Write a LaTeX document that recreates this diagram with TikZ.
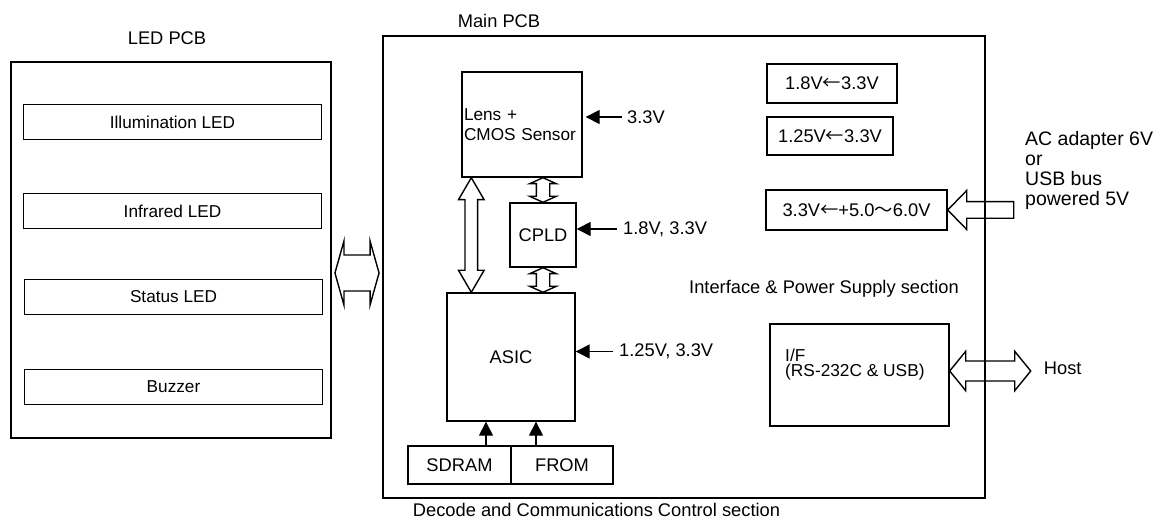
\documentclass[tikz,border=0pt]{standalone}
\usepackage{fontspec}
\setmainfont{Liberation Sans}
\newfontfamily\cjk{Noto Sans CJK JP}
\usetikzlibrary{arrows.meta,positioning,calc}

\newcommand{\lfrom}{{\cjk ←}}
\newcommand{\wavesym}{{\cjk ～}}
% hollow double arrow, left tip / right tip / half shaft / half head / head length
\newcommand{\hollowh}[5]{%
  \draw[hollow] let \p1=(#1), \p2=(#2) in
    (\x1,\y1) -- (\x1+#5,\y1+#4) -- (\x1+#5,\y1+#3) -- (\x2-#5,\y1+#3) -- (\x2-#5,\y1+#4)
    -- (\x2,\y1) -- (\x2-#5,\y1-#4) -- (\x2-#5,\y1-#3) -- (\x1+#5,\y1-#3) -- (\x1+#5,\y1-#4) -- cycle;}
% hollow double arrow, top tip / bottom tip
\newcommand{\hollowv}[5]{%
  \draw[hollow] let \p1=(#1), \p2=(#2) in
    (\x1,\y1) -- (\x1+#4,\y1-#5) -- (\x1+#3,\y1-#5) -- (\x1+#3,\y2+#5) -- (\x1+#4,\y2+#5)
    -- (\x1,\y2) -- (\x1-#4,\y2+#5) -- (\x1-#3,\y2+#5) -- (\x1-#3,\y1-#5) -- (\x1-#4,\y1-#5) -- cycle;}
% hollow single arrow pointing left, tip / tail
\newcommand{\hollowl}[5]{%
  \draw[hollow] let \p1=(#1), \p2=(#2) in
    (\x1,\y1) -- (\x1+#5,\y1+#4) -- (\x1+#5,\y1+#3) -- (\x2,\y1+#3)
    -- (\x2,\y1-#3) -- (\x1+#5,\y1-#3) -- (\x1+#5,\y1-#4) -- cycle;}

\begin{document}
\begin{tikzpicture}[x=1pt, y=-1pt, font=\fontsize{18.3}{20}\selectfont,
  pcb/.style={draw, line width=1.9pt, inner sep=0pt},
  box/.style={draw, line width=1.4pt, inner sep=2pt, align=center},
  small/.style={font=\fontsize{17.2}{20}\selectfont},
  lbl/.style={inner sep=0pt, align=left},
  hollow/.style={line width=1.4pt, line join=miter},
  feed/.style={->, line width=1.4pt},
  >={Triangle[length=14pt,width=14pt]}]
\useasboundingbox (0,0) rectangle (1170,521);

% LED PCB
\node[pcb, minimum width=320pt, minimum height=376pt] (ledpcb) at (171,250) {};
\node[lbl] (ledtitle) at (167,38) {LED PCB};
\node[box, small, minimum width=298pt, minimum height=35pt] (illum) at (172.5,122) {Illumination LED};
\node[box, small, minimum width=298pt, minimum height=35pt] (infra) at (172.5,211) {Infrared LED};
\node[box, small, minimum width=298pt, minimum height=35pt] (status) at (173.5,297) {Status LED};
\node[box, small, minimum width=298pt, minimum height=35pt] (buzzer) at (173.5,387) {Buzzer};

% Main PCB
\node[pcb, minimum width=602pt, minimum height=462pt] (mainpcb) at (684,267) {};
\node[lbl] (maintitle) at (499,21) {Main PCB};
\node[box, small, text width=116pt, align=left, inner sep=2pt, minimum height=105pt] (lens) at (522,124.5) {Lens +\\CMOS Sensor};
\node[box, minimum width=66pt, minimum height=64pt] (cpld) at (543,235) {CPLD};
\node[box, minimum width=128pt, minimum height=128pt] (asic) at (511,357) {ASIC};
\node[box, minimum width=103pt, minimum height=38pt] (sdram) at (459.5,465) {SDRAM};
\node[box, minimum width=102pt, minimum height=38pt] (from) at (562,465) {FROM};
\node[lbl] (decsec) at (596.5,510) {Decode and Communications Control section};

% power section
\node[box, minimum width=130pt, minimum height=39pt] (vreg1) at (832,83.5) {1.8V\lfrom3.3V};
\node[box, minimum width=126pt, minimum height=38pt] (vreg2) at (830,136) {1.25V\lfrom3.3V};
\node[box, minimum width=181pt, minimum height=40pt] (vreg3) at (856.5,210) {3.3V\lfrom+5.0\wavesym6.0V};
\node[lbl, anchor=west] (ifsec) at (689,289) {Interface \& Power Supply section};
\node[box, minimum width=179pt, minimum height=102pt] (ifbox) at (859.5,375) {};
\node[lbl, anchor=west, font=\fontsize{17.3}{15}\selectfont] (iftext) at (785,365) {I/F\\(RS-232C \& USB)};

% supply feeds
\coordinate (lensin) at (622,117);
\coordinate (cpldin) at (617,229);
\coordinate (asicin) at (613,351.5);
\draw[feed] (lensin) -- ([xshift=3pt]lensin -| lens.east);
\draw[feed] (cpldin) -- (cpldin -| cpld.east);
\draw[feed] (asicin) -- (asicin -| asic.east);
\node[lbl, right=5pt of lensin] (lensv) {3.3V};
\node[lbl, right=6pt of cpldin] (cpldv) {1.8V, 3.3V};
\node[lbl, right=6pt of asicin] (asicv) {1.25V, 3.3V};

% memories
\coordinate (sdout) at ($(sdram.north)+(26.5,0)$);
\coordinate (fromout) at ($(from.north)+(-26,0)$);
\draw[feed] (sdout) -- (sdout |- asic.south);
\draw[feed] (fromout) -- (fromout |- asic.south);

% buses
\coordinate (ledL) at ($(ledpcb.east)+(3,23)$);
\coordinate (ledR) at ($(mainpcb.west)+(-3,6)$);
\hollowh{ledL}{ledR}{18pt}{32pt}{9pt}
\coordinate (bigT) at ($(lens.south west)+(10,0)$);
\hollowv{bigT}{bigT |- asic.north}{6.3pt}{12.8pt}{22pt}
\hollowv{cpld.north |- lens.south}{cpld.north}{6.7pt}{13.3pt}{6pt}
\hollowv{cpld.south}{cpld.south |- asic.north}{6.7pt}{13.3pt}{6pt}
\coordinate (hostL) at ($(ifbox.east)+(0,-4)$);
\coordinate (hostR) at ($(hostL)+(81,0)$);
\hollowh{hostL}{hostR}{10pt}{19.7pt}{16pt}
\node[lbl, right=13pt of hostR, yshift=3pt] (host) {Host};

% external supply
\coordinate (pwrT) at ($(vreg3.east)+(66,0)$);
\hollowl{vreg3.east}{pwrT}{8.3pt}{19.5pt}{19pt}
\node[lbl, anchor=west, font=\fontsize{19.5}{20}\selectfont] (acin) at (1025,170) {AC adapter 6V\\or\\USB bus\\powered 5V};
\end{tikzpicture}
\end{document}
